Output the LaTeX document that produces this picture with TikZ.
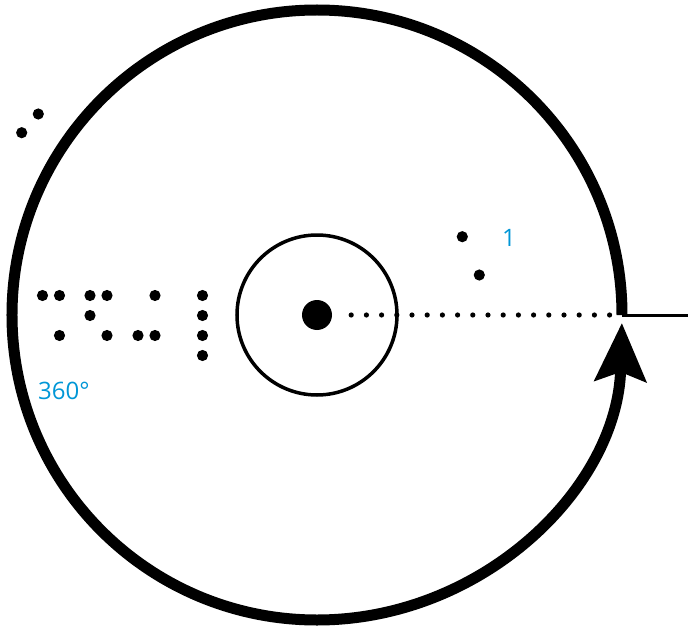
\documentclass[tikz,border=0pt]{standalone}
\usepackage{fontspec}
\setsansfont{Open Sans}
\usetikzlibrary{arrows.meta,calc}
\definecolor{Label}{HTML}{0096D6}
\tikzset{brl/.style={circle,fill=black,inner sep=0pt,minimum size=11.2pt},
  lbl/.style={font=\sffamily\fontsize{24}{26}\selectfont,text=Label,inner sep=0pt}}

\begin{document}
\begin{tikzpicture}[x=1pt,y=1pt]
\useasboundingbox (-317,-312) rectangle (371,315);
\coordinate (o) at (0,0);
\coordinate (rim) at (305,0);
\coordinate (tail) at (371,0);
% turn of the wheel
\draw[line width=11pt,-{Stealth[length=58pt,width=51pt,inset=9pt]}] (rim) arc[start angle=0,end angle=358.5,radius=305];
\draw[line width=3.5pt] (o) circle[radius=80];
\node[circle,fill=black,inner sep=0pt,minimum size=30pt] (hub) at (o) {};
\draw[line width=3pt] (rim) -- (tail);
\draw[line width=5.2pt,line cap=round,dash pattern=on 0pt off 15.2pt,shorten <=19pt,shorten >=11.7pt] (hub) -- (rim);
% braille
\foreach \x/\y [count=\i] in {-274.5/19.5,-257.5/19.5,-227/19.5,-210/19.5,-162/19.5,-114.5/19.5,-227/-0.5,-114.5/-0.5,-257.5/-20.5,-210/-20.5,-179/-20.5,-162/-20.5,-114.5/-20.5,-114.5/-40.5} {\node[brl] (b\i) at (\x,\y) {};}
\node[brl] (t1) at (-278.7,201) {};
\node[brl] (t2) at (-295.3,182.3) {};
\node[brl] (r1) at (145.3,78.3) {};
\node[brl] (r2) at (162.3,40) {};
\node[lbl,anchor=base west] (deg) at (-279,-84) {360°};
\node[lbl] (one) at (192,76.7) {1};
\end{tikzpicture}
\end{document}
